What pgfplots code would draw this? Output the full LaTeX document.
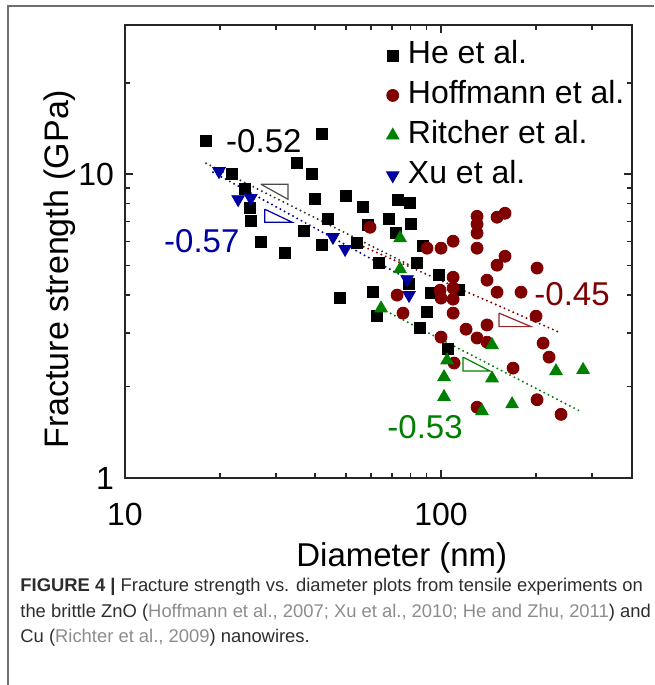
\documentclass[border=0pt]{standalone}
\usepackage{fontspec}
\setmainfont{Liberation Sans}
\usepackage{xcolor}
\usepackage{pgfplots}
\pgfplotsset{compat=1.18}

\definecolor{hered}{RGB}{128,0,0}
\definecolor{rigreen}{RGB}{0,128,0}
\definecolor{xublue}{RGB}{0,0,160}
\definecolor{captext}{RGB}{45,45,45}
\definecolor{citegray}{RGB}{140,140,140}
\definecolor{framegray}{RGB}{110,110,110}

\newcommand\tickf{\fontsize{16}{19}\selectfont}
\newcommand\legf{\fontsize{16}{19}\selectfont}
\newcommand\slopef{\fontsize{16.5}{19}\selectfont}
\newcommand\labf{\fontsize{16.5}{19}\selectfont}
\newcommand\ylabf{\fontsize{17}{20}\selectfont}
\newcommand\capf{\fontsize{9.2}{12.75}\selectfont}

% data (diameter nm, strength GPa)
\pgfplotstableread{
d s
18.05 12.84
42.0 13.54
35.0 10.87
39.1 10.0
21.8 10.0
24.0 8.93
39.9 8.27
24.9 7.73
25.0 7.00
43.9 7.11
36.9 6.49
26.9 5.97
42.0 5.84
32.1 5.50
50.0 8.47
56.6 7.79
73.1 8.21
79.8 8.03
68.5 7.11
80.4 6.85
58.7 6.80
72.0 6.40
54.2 5.93
87.7 5.80
63.6 5.10
84.0 5.10
98.5 4.65
79.2 4.35
60.9 4.09
47.9 3.91
93.0 4.06
114.0 4.15
90.3 3.52
62.7 3.41
85.8 3.11
105.2 2.66
}\he

\pgfplotstableread{
d s
59.6 6.69
90.3 5.71
100 5.71
109.2 6.02
109.2 4.58
109.2 4.22
99.3 4.15
100 3.91
109.2 3.88
72.6 4.00
75.8 3.49
109.2 3.49
130 7.27
130 6.85
130 6.40
150.4 7.22
159.4 7.44
130 5.71
159.4 5.37
150.4 5.02
201.3 4.91
139.8 4.48
150.4 4.09
179.1 4.09
199.8 3.41
120 3.09
139.8 3.19
130 2.89
139.8 2.80
100 2.91
110 2.39
169 2.30
210.3 2.78
219.7 2.50
201.3 1.81
130 1.71
239.7 1.62
}\hoffmann

\pgfplotstableread{
d s
74.2 6.16
74.2 4.87
64.6 3.62
104.5 2.44
102.2 2.15
102.2 1.85
145 2.74
145 2.13
134.8 1.66
167.8 1.75
231.1 2.25
281.5 2.27
}\richter

\pgfplotstableread{
d s
19.84 10.23
22.8 8.27
25.0 8.34
45.5 6.21
49.7 5.67
78.1 4.51
79.2 4.00
}\xu

\begin{document}
\begin{tikzpicture}
\path[use as bounding box] (0pt,0pt) rectangle (327pt,342.5pt);
\draw[framegray, line width=0.6pt] (4pt,0pt) -- (4pt,339.5pt) -- (327pt,339.5pt);

\begin{axis}[
    at={(62.5pt,103.5pt)}, anchor=south west,
    scale only axis, width=253.5pt, height=226.5pt,
    xmode=log, ymode=log,
    xmin=10, xmax=402, ymin=1, ymax=31,
    xtick={10,100}, xticklabels={10,100},
    ytick={1,10}, yticklabels={1,10},
    minor xtick={20,30,40,50,60,70,80,90,200,300},
    minor ytick={2,3,4,5,6,7,8,9,20},
    tick align=inside,
    major tick length=4pt, minor tick length=2.5pt,
    axis line style={line width=1pt, black!85},
    every tick/.style={line width=0.8pt, black!85},
    tick label style={font=\tickf},
    xticklabel style={yshift=-9pt},
    yticklabel style={xshift=-2pt},
    xlabel={Diameter (nm)}, ylabel={Fracture strength (GPa)},
    xlabel style={font=\labf, at={(axis description cs:0.546,-0.177)}, anchor=center},
    ylabel style={font=\ylabf, at={(axis description cs:-0.128,0.461)}, anchor=center},
    clip=false,
    legend style={at={(axis description cs:0.515,0.969)}, anchor=north west,
        draw=none, fill=none, inner sep=0pt, font=\legf,
        row sep=4pt, column sep=3.5pt,
        nodes={inner sep=1pt, text height=11pt, text depth=3pt}},
    legend cell align=left,
    legend image code/.code={\draw[mark repeat=2,mark phase=2,#1]
        plot coordinates {(0pt,0pt)(4pt,0pt)(8pt,0pt)};},
]
% power-law fits (dotted)
\addplot[forget plot, black!80, line width=1.1pt, line cap=round, dash pattern=on 0pt off 2.4pt]
    coordinates {(18.05,10.87) (85.7,4.83)};
\addplot[forget plot, hered, line width=1.1pt, line cap=round, dash pattern=on 0pt off 2.4pt]
    coordinates {(53.4,5.94) (239.7,3.0)};
\addplot[forget plot, xublue, line width=1.1pt, line cap=round, dash pattern=on 0pt off 2.4pt]
    coordinates {(18.99,10.15) (79.8,4.48)};
\addplot[forget plot, rigreen, line width=1.1pt, line cap=round, dash pattern=on 0pt off 2.4pt]
    coordinates {(65.1,3.60) (275.4,1.66)};

% slope triangles
\addplot[forget plot, black!70, line width=0.6pt]
    coordinates {(26.9,9.27) (32.8,9.27) (32.8,8.27) (26.9,9.27)};
\addplot[forget plot, xublue, line width=0.6pt]
    coordinates {(27.7,7.67) (27.7,6.95) (33.8,6.95) (27.7,7.67)};
\addplot[forget plot, hered!85, line width=0.6pt]
    coordinates {(152.6,3.49) (152.6,3.15) (192.7,3.15) (152.6,3.49)};
\addplot[forget plot, rigreen, line width=0.6pt]
    coordinates {(117.4,2.50) (117.4,2.25) (142.9,2.25) (117.4,2.50)};

% data
\addplot[only marks, mark=square*, mark size=2.75pt, black, mark options={fill=black}]
    table[x=d, y=s] {\he};
\addlegendentry{He et al.}
\addplot[only marks, mark=*, mark size=3pt, hered, mark options={fill=hered}]
    table[x=d, y=s] {\hoffmann};
\addlegendentry{Hoffmann et al.}
\addplot[only marks, mark=triangle*, mark size=3.6pt, rigreen, mark options={fill=rigreen}]
    table[x=d, y=s] {\richter};
\addlegendentry{Ritcher et al.}
\addplot[only marks, mark=triangle*, mark size=3.6pt, xublue, mark options={fill=xublue, rotate=180}]
    table[x=d, y=s] {\xu};
\addlegendentry{Xu et al.}

% slope labels
\node[font=\slopef, black] at (axis cs:27.5,12.84) {-0.52};
\node[font=\slopef, xublue] at (axis cs:17.5,6.02) {-0.57};
\node[font=\slopef, hered] at (axis cs:259.8,4.03) {-0.45};
\node[font=\slopef, rigreen] at (axis cs:89.0,1.47) {-0.53};
\end{axis}

% caption
\node[anchor=base west, font=\capf, text=captext, inner sep=0pt] at (10pt,46.5pt)
    {\textbf{FIGURE 4 |} Fracture strength vs. diameter plots from tensile experiments on};
\node[anchor=base west, font=\capf, text=captext, inner sep=0pt] at (10pt,33.75pt)
    {the brittle ZnO (\textcolor{citegray}{Hoffmann et al., 2007; Xu et al., 2010; He and Zhu, 2011}) and};
\node[anchor=base west, font=\capf, text=captext, inner sep=0pt] at (10pt,21pt)
    {Cu (\textcolor{citegray}{Richter et al., 2009}) nanowires.};
\end{tikzpicture}
\end{document}
